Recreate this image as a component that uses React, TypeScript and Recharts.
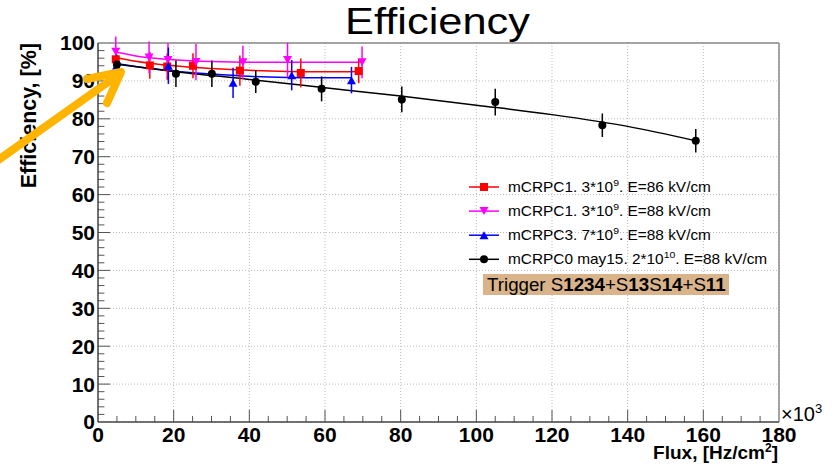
import React from 'react';
import {
  ComposedChart,
  Line,
  Scatter,
  ErrorBar,
  XAxis,
  YAxis,
  CartesianGrid,
  ReferenceLine
} from 'recharts';

const FONT = '"Liberation Sans", Arial, Helvetica, sans-serif';

// flux in 10^3 Hz/cm2, efficiency in %
const redX = [4.7, 13.7, 18.3, 25.1, 37.5, 53.6, 68.9];
const redY = [95.7, 94.1, 93.8, 94.0, 92.7, 92.1, 92.6];
const redErr = [3.0, 3.5, 3.5, 3.3, 4.0, 3.8, 3.2];

const magX = [4.7, 13.5, 18.5, 25.9, 38.3, 50.1, 69.8];
const magY = [97.7, 96.2, 95.5, 95.0, 94.9, 95.5, 94.9];
const magErr = [4.0, 4.2, 4.5, 4.8, 4.4, 4.6, 4.2];

const blueX = [4.9, 18.6, 35.7, 51.2, 67.0];
const blueY = [94.0, 94.0, 89.5, 91.5, 90.2];
const blueErr = [3.0, 4.8, 4.0, 4.0, 3.5];

const blackX = [5, 20.6, 30.1, 41.7, 59.1, 80.3, 105, 133.3, 158];
const blackY = [94.3, 91.9, 91.9, 89.8, 87.9, 85.1, 84.4, 78.3, 74.2];
const blackErr = [2.5, 3.5, 3.5, 3.0, 3.3, 3.4, 3.5, 3.1, 3.1];

// fitted curves
const redFitX = [4.7, 10, 20, 30, 40, 50, 60, 69];
const redFitY = [96.2, 95.2, 94.0, 93.3, 92.8, 92.5, 92.4, 92.5];
const magFitX = [4.7, 10, 20, 30, 40, 50, 60, 70];
const magFitY = [97.6, 96.6, 95.6, 95.1, 94.9, 94.9, 94.9, 94.9];
const blueFitX = [4.9, 10, 20, 30, 40, 50, 60, 67];
const blueFitY = [94.6, 93.8, 92.6, 91.8, 91.2, 90.9, 90.8, 90.8];
const blackFitX = [5, 20, 40, 60, 80, 100, 120, 140, 158];
const blackFitY = [94.4, 92.5, 90.4, 88.2, 86.0, 83.6, 81.1, 78.0, 74.2];

const xTicks = [0, 20, 40, 60, 80, 100, 120, 140, 160, 180];
const yTicks = [0, 10, 20, 30, 40, 50, 60, 70, 80, 90, 100];

const toPts = (xs: number[], ys: number[], es?: number[]) =>
  xs.map((x, i) => ({ x, y: ys[i], err: es ? es[i] : 0 }));

const redPts = toPts(redX, redY, redErr);
const magPts = toPts(magX, magY, magErr);
const bluePts = toPts(blueX, blueY, blueErr);
const blackPts = toPts(blackX, blackY, blackErr);

// tick marks drawn inside the frame, ROOT style
const xMinor: number[] = [];
for (let v = 5; v < 180; v += 5) if (v % 20 !== 0) xMinor.push(v);
const yMinor: number[] = [];
for (let v = 2; v < 100; v += 2) if (v % 10 !== 0) yMinor.push(v);

type Mk = 'square' | 'down' | 'up' | 'circle';

function marker(kind: Mk, color: string, cx: number, cy: number) {
  if (kind === 'square')
    return <rect x={cx - 4} y={cy - 4} width={8} height={8} fill={color} />;
  if (kind === 'down')
    return <polygon points={`${cx - 4.5},${cy - 4} ${cx + 4.5},${cy - 4} ${cx},${cy + 4}`} fill={color} />;
  if (kind === 'up')
    return <polygon points={`${cx - 4.5},${cy + 4} ${cx + 4.5},${cy + 4} ${cx},${cy - 4}`} fill={color} />;
  return <circle cx={cx} cy={cy} r={4} fill={color} />;
}

const shapeFor = (kind: Mk, color: string) => (p: any) => marker(kind, color, p.cx, p.cy);

const legendRows: { kind: Mk; color: string; pre: string; exp: string; post: string }[] = [
  { kind: 'square', color: '#ff0000', pre: 'mCRPC1. 3*10', exp: '9', post: '. E=86 kV/cm' },
  { kind: 'down', color: '#ff00ff', pre: 'mCRPC1. 3*10', exp: '9', post: '. E=88 kV/cm' },
  { kind: 'up', color: '#0000ff', pre: 'mCRPC3. 7*10', exp: '9', post: '. E=88 kV/cm' },
  { kind: 'circle', color: '#000000', pre: 'mCRPC0 may15. 2*10', exp: '10', post: '. E=88 kV/cm' }
];

export default function App() {
  return (
    <div style={{ position: 'absolute', left: 0, top: 0, width: 837, height: 469, background: '#fff', fontFamily: FONT }}>
      <ComposedChart
        width={837}
        height={469}
        margin={{ top: 43, right: 58, bottom: 0, left: 38 }}
      >
        <CartesianGrid stroke="#bbbbbb" strokeDasharray="1 2" strokeWidth={1} />
        <XAxis
          type="number"
          dataKey="x"
          domain={[0, 180]}
          ticks={xTicks}
          height={47}
          tickLine={false}
          tickSize={0}
          tickMargin={5}
          axisLine={{ stroke: '#444', strokeWidth: 1.5 }}
          tick={{ fontSize: 21, fontWeight: 'bold', fill: '#000', fontFamily: FONT }}
          label={() => (
            <text x={778} y={459} textAnchor="end" fontSize={19} fontWeight="bold" fontFamily={FONT} fill="#000">
              Flux, [Hz/cm<tspan dy={-7} fontSize={12}>2</tspan><tspan dy={7}>]</tspan>
            </text>
          )}
        />
        <YAxis
          type="number"
          domain={[0, 100]}
          ticks={yTicks}
          allowDataOverflow
          width={60}
          tickLine={false}
          tickSize={0}
          tickMargin={3}
          axisLine={{ stroke: '#444', strokeWidth: 1.5 }}
          tick={{ fontSize: 21, fontWeight: 'bold', fill: '#000', fontFamily: FONT }}
          label={({ viewBox }: any) => (
            <text
              x={0}
              y={0}
              transform={`translate(36, ${viewBox.y}) rotate(-90)`}
              textAnchor="end"
              fontSize={21.5}
              fontWeight="bold"
              fontFamily={FONT}
              fill="#000"
            >
              Efficiency, [%]
            </text>
          )}
        />
        <ReferenceLine y={100} stroke="#888" strokeWidth={1.5} />
        <ReferenceLine x={180} stroke="#888" strokeWidth={1.5} />
        {xTicks.slice(1, -1).map(v => (
          <ReferenceLine key={'xM' + v} segment={[{ x: v, y: 0 }, { x: v, y: 3.2 }]} stroke="#555" />
        ))}
        {xMinor.map(v => (
          <ReferenceLine key={'xm' + v} segment={[{ x: v, y: 0 }, { x: v, y: 1.6 }]} stroke="#555" />
        ))}
        {yTicks.slice(1, -1).map(v => (
          <ReferenceLine key={'yM' + v} segment={[{ x: 0, y: v }, { x: 3.2, y: v }]} stroke="#555" />
        ))}
        {yMinor.map(v => (
          <ReferenceLine key={'ym' + v} segment={[{ x: 0, y: v }, { x: 1.7, y: v }]} stroke="#555" />
        ))}

        <Line data={toPts(redFitX, redFitY)} dataKey="y" type="monotone" stroke="#ff0000" strokeWidth={1.5} dot={false} isAnimationActive={false} />
        <Line data={toPts(magFitX, magFitY)} dataKey="y" type="monotone" stroke="#ff00ff" strokeWidth={1.5} dot={false} isAnimationActive={false} />
        <Line data={toPts(blueFitX, blueFitY)} dataKey="y" type="monotone" stroke="#0000ff" strokeWidth={1.5} dot={false} isAnimationActive={false} />
        <Line data={toPts(blackFitX, blackFitY)} dataKey="y" type="monotone" stroke="#000" strokeWidth={1.5} dot={false} isAnimationActive={false} />

        <Scatter data={redPts} dataKey="y" fill="#ff0000" shape={shapeFor('square', '#ff0000')} isAnimationActive={false}>
          <ErrorBar dataKey="err" direction="y" width={0} stroke="#ff0000" strokeWidth={1.5} />
        </Scatter>
        <Scatter data={magPts} dataKey="y" fill="#ff00ff" shape={shapeFor('down', '#ff00ff')} isAnimationActive={false}>
          <ErrorBar dataKey="err" direction="y" width={0} stroke="#ff00ff" strokeWidth={1.5} />
        </Scatter>
        <Scatter data={bluePts} dataKey="y" fill="#0000ff" shape={shapeFor('up', '#0000ff')} isAnimationActive={false}>
          <ErrorBar dataKey="err" direction="y" width={0} stroke="#0000ff" strokeWidth={1.5} />
        </Scatter>
        <Scatter data={blackPts} dataKey="y" fill="#000" shape={shapeFor('circle', '#000')} isAnimationActive={false}>
          <ErrorBar dataKey="err" direction="y" width={0} stroke="#000" strokeWidth={1.5} />
        </Scatter>
      </ComposedChart>

      <svg width={837} height={469} style={{ position: 'absolute', left: 0, top: 0, pointerEvents: 'none' }}>
        <text x={345} y={34} fontSize={37} fontFamily={FONT} fill="#000" textLength={185} lengthAdjust="spacingAndGlyphs">Efficiency</text>
        <text x={781} y={421} fontSize={20} fontFamily={FONT} fill="#000">
          ×10<tspan dy={-8} fontSize={13}>3</tspan>
        </text>

        {legendRows.map((r, i) => {
          const cy = 187 + i * 24.1;
          return (
            <g key={i}>
              <line x1={469} x2={499} y1={cy} y2={cy} stroke={r.color} strokeWidth={1.5} />
              {marker(r.kind, r.color, 484, cy)}
              <text x={0} y={0} transform={`translate(508, ${cy + 5}) scale(1.1, 1)`} fontSize={14} fontFamily={FONT} fill="#000">
                {r.pre}
                <tspan dy={-6} fontSize={9.5}>{r.exp}</tspan>
                <tspan dy={6}>{r.post}</tspan>
              </text>
            </g>
          );
        })}

        <rect x={483} y={274} width={246} height={21} fill="#d9b48a" />
        <text x={0} y={0} transform="translate(487, 291) scale(1.04, 1)" fontSize={18} fontFamily={FONT} fill="#000">
          Trigger S<tspan fontWeight="bold">1234</tspan>+S<tspan fontWeight="bold">13</tspan>S<tspan fontWeight="bold">14</tspan>+S<tspan fontWeight="bold">11</tspan>
        </text>

        <g stroke="#ffb400" strokeWidth={8} strokeLinecap="round" strokeLinejoin="round" fill="none">
          <line x1={-6} y1={163} x2={118} y2={75} />
          <polyline points="87,79 121,72 107,103" />
        </g>
      </svg>
    </div>
  );
}
